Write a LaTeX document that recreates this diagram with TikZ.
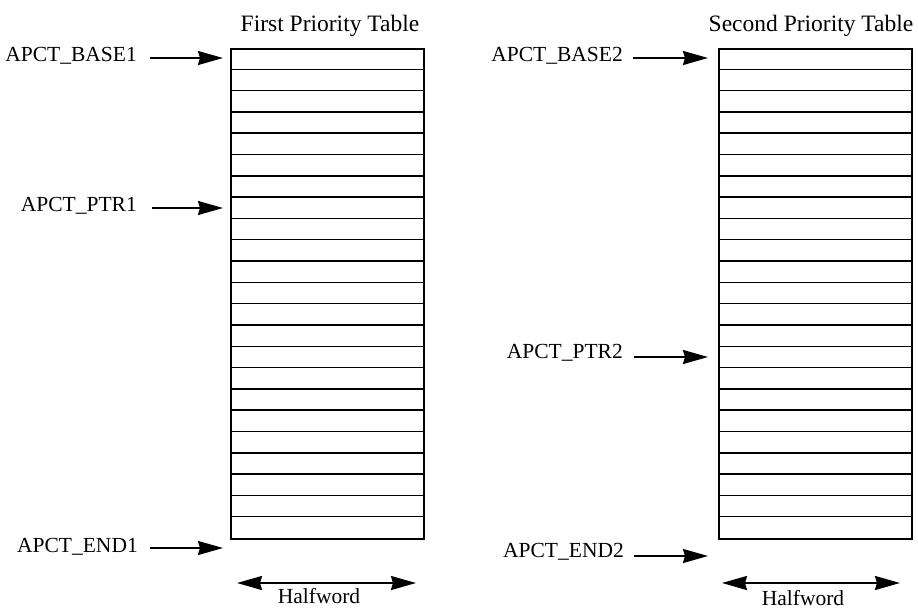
\documentclass[tikz,border=0pt]{standalone}
\usepackage{fontspec}
\setmainfont{Liberation Serif}
\usetikzlibrary{arrows.meta,calc}
\begin{document}
\begin{tikzpicture}[x=1pt,y=-1pt,
  lbl/.style={font=\fontsize{21.5}{24}\selectfont, inner sep=0pt, anchor=base east},
  ttl/.style={font=\fontsize{23.5}{26}\selectfont, inner sep=0pt, anchor=base},
  wd/.style={font=\fontsize{21.5}{24}\selectfont, inner sep=0pt, anchor=base},
  tbl/.style={draw, line width=1.8pt, minimum width=193pt, minimum height=490pt, inner sep=0pt, anchor=north west},
  rowline/.style={line width=1.5pt},
  tip/.style={Stealth[length=25pt, width=14pt, inset=2pt]},
  ptr/.style={line width=2pt, -{Stealth[length=25pt, width=14pt, inset=2pt]}},
  span/.style={line width=2pt, {Stealth[length=25pt, width=14pt, inset=2pt]}-{Stealth[length=25pt, width=14pt, inset=2pt]}}]
  \useasboundingbox (0,0) rectangle (918,608);

  % the two tables, 23 halfword slots each
  \node[tbl] (t1) at (230,48) {};
  \node[tbl] (t2) at (718,48) {};
  \foreach \k in {1,...,22}{
    \draw[rowline] ($(t1.north west)+(0,\k*21.304)$) -- ($(t1.north east)+(0,\k*21.304)$);
    \draw[rowline] ($(t2.north west)+(0,\k*21.304)$) -- ($(t2.north east)+(0,\k*21.304)$);
  }

  % titles
  \node[ttl] (h1) at (330,31) {First Priority Table};
  \node[ttl] (h2) at (811,31) {Second Priority Table};

  % pointer labels
  \node[lbl] (base1) at (137,61) {APCT\_BASE1};
  \node[lbl] (ptr1)  at (137,211) {APCT\_PTR1};
  \node[lbl] (end1)  at (138,552) {APCT\_END1};
  \node[lbl] (base2) at (623,61) {APCT\_BASE2};
  \node[lbl] (ptr2)  at (623,358) {APCT\_PTR2};
  \node[lbl] (end2)  at (624,557) {APCT\_END2};

  % pointer targets
  \coordinate (b1) at (223,58);
  \coordinate (p1) at (223,208);
  \coordinate (e1) at (223,548);
  \coordinate (b2) at (708,58);
  \coordinate (p2) at (708,357);
  \coordinate (e2) at (708,556);

  \draw[ptr] ([xshift=13pt]base1.east |- b1) -- (b1);
  \draw[ptr] ([xshift=15pt]ptr1.east |- p1) -- (p1);
  \draw[ptr] ([xshift=12pt]end1.east |- e1) -- (e1);
  \draw[ptr] ([xshift=10pt]base2.east |- b2) -- (b2);
  \draw[ptr] ([xshift=11pt]ptr2.east |- p2) -- (p2);
  \draw[ptr] ([xshift=10pt]end2.east |- e2) -- (e2);

  % width markers
  \coordinate (w1a) at (237,583);
  \coordinate (w1b) at (416,583);
  \coordinate (w2a) at (722,583);
  \coordinate (w2b) at (900,583);
  \draw[span] (w1a) -- (w1b);
  \draw[span] (w2a) -- (w2b);
  \node[wd] (hw1) at (319,603) {Halfword};
  \node[wd] (hw2) at (803,605) {Halfword};
\end{tikzpicture}
\end{document}
